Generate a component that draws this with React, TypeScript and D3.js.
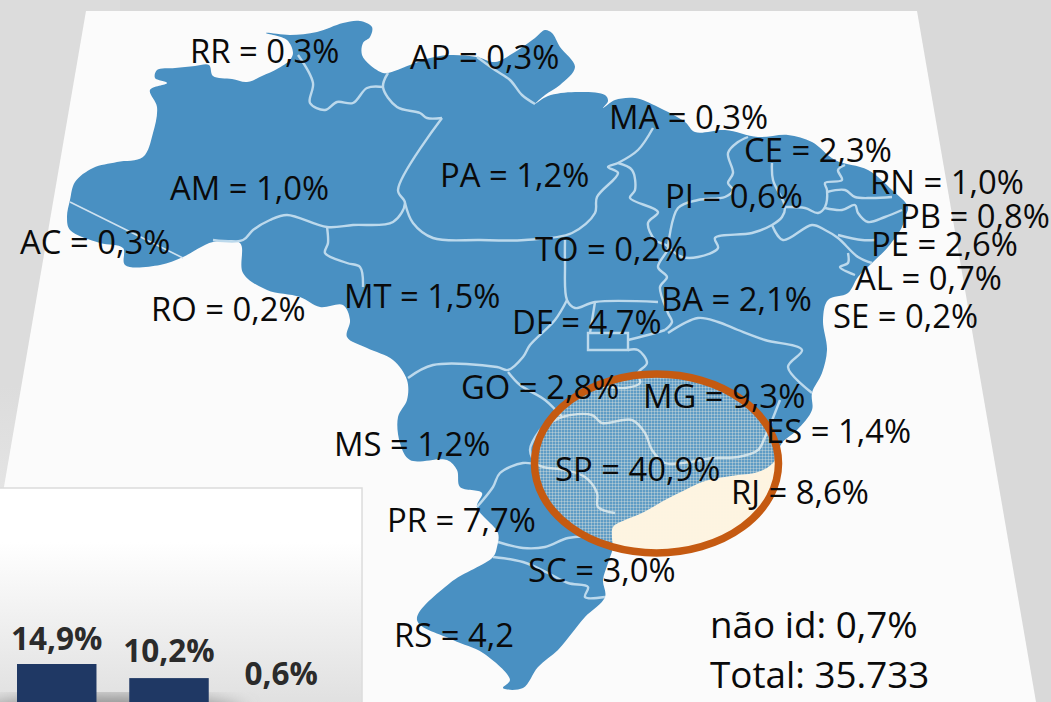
import React from 'react';
import * as d3 from 'd3';

type Pt = [number, number];

// values
const states = ['RR', 'AP', 'MA', 'CE', 'RN', 'PB', 'PE', 'AL', 'SE', 'PI', 'BA', 'TO', 'PA', 'AM', 'AC', 'MT', 'RO', 'DF', 'GO', 'MG', 'ES', 'SP', 'RJ', 'MS', 'PR', 'SC', 'RS'];
const shares = ['0,3%', '0,3%', '0,3%', '2,3%', '1,0%', '0,8%', '2,6%', '0,7%', '0,2%', '0,6%', '2,1%', '0,2%', '1,2%', '1,0%', '0,3%', '1,5%', '0,2%', '4,7%', '2,8%', '9,3%', '1,4%', '40,9%', '8,6%', '1,2%', '7,7%', '3,0%', '4,2'];
const notes = ['não id: 0,7%', 'Total: 35.733'];
const barValues = [14.9, 10.2, 0.6];
const barLabels = ['14,9%', '10,2%', '0,6%'];

// where each label starts (same order as states)
const labelAnchors: Pt[] = [[190, 63], [410, 69], [609, 129], [744, 162], [870, 194], [900, 228], [871, 256], [855, 290], [833, 328], [665, 208], [661, 311], [535, 261], [440, 187], [170, 200], [20, 254], [344, 308], [151, 321], [512, 334], [461, 399], [643, 408], [766, 443], [555, 481], [731, 504], [334, 456], [387, 532], [528, 582], [394, 647]];
const noteAnchors: Pt[] = [[710, 638], [710, 688]];

// outline of the country
const outline: Pt[] = [
  [157, 70], [175, 68], [195, 66], [209, 65], [213, 76], [232, 79], [247, 82], [262, 76], [277, 69], [290, 60], [293, 53], [287, 40], [266, 33],
  [290, 35], [317, 32], [343, 23], [360, 21], [372, 27], [370, 37], [363, 43], [362, 55], [370, 65], [383, 73], [388, 73], [410, 65], [430, 58],
  [450, 55], [477, 57], [495, 62], [515, 52], [535, 38], [545, 30], [552, 33], [560, 47], [575, 67], [560, 85], [545, 95], [535, 104], [548, 96], [575, 92],
  [605, 95], [608, 101], [603, 108], [615, 100], [635, 98], [658, 107], [685, 122], [695, 132], [725, 130], [758, 137], [788, 135], [812, 142],
  [835, 160], [868, 170], [892, 190], [908, 207], [905, 217], [902, 227], [888, 247], [872, 263], [858, 277], [848, 293], [828, 300], [823, 320],
  [827, 350], [822, 373], [812, 393], [812, 410], [797, 430], [782, 443], [773, 463], [758, 472], [738, 475], [718, 478], [702, 482], [685, 490],
  [665, 500], [642, 513], [625, 520], [613, 527], [612, 538], [613, 547], [608, 563], [603, 580], [605, 597], [585, 617], [572, 633], [558, 650],
  [538, 667], [523, 688], [503, 688], [510, 680], [483, 653], [453, 640], [417, 620], [450, 583], [493, 557], [497, 547], [498, 533], [477, 507],
  [482, 493], [460, 487], [457, 470], [447, 460], [410, 460], [400, 443], [398, 417], [407, 400], [407, 380], [393, 360], [367, 348], [347, 337],
  [350, 320], [343, 305], [320, 307], [300, 297], [267, 290], [243, 273], [240, 243], [213, 242], [183, 257], [160, 265], [125, 265], [123, 248],
  [100, 243], [70, 230], [67, 217], [70, 200], [75, 182], [93, 168], [117, 162], [143, 157], [153, 133], [157, 107], [150, 90], [167, 83], [155, 78],
];

// state borders, same tracing
const borders: Pt[][] = [
  [[298, 55], [313, 83], [310, 103], [325, 110], [337, 102], [353, 103], [367, 88], [383, 87]],
  [[388, 73], [383, 87], [397, 107], [420, 113], [427, 118], [442, 118]],
  [[442, 118], [398, 190], [405, 203], [393, 222], [353, 225], [327, 227], [287, 215], [270, 220], [253, 230], [243, 240], [213, 240]],
  [[327, 227], [328, 243], [325, 253], [347, 263], [360, 267], [363, 287]],
  [[405, 203], [413, 223], [433, 238], [480, 240], [525, 240], [572, 233], [595, 213], [597, 197], [618, 173], [608, 167], [618, 163], [638, 150], [653, 128]],
  [[477, 57], [495, 70], [510, 80], [522, 95], [535, 104]],
  [[618, 163], [632, 170], [635, 190], [630, 198], [658, 212], [648, 223], [655, 240], [668, 247], [658, 267], [667, 277], [660, 287], [668, 313], [672, 322], [665, 330]],
  [[565, 240], [565, 263], [567, 300], [575, 308], [595, 302], [658, 302]],
  [[567, 300], [555, 320], [530, 345], [523, 357], [508, 370], [497, 367], [433, 365], [408, 378]],
  [[508, 372], [520, 385], [545, 400], [562, 417]],
  [[595, 302], [590, 333]],
  [[628, 340], [655, 333], [665, 330]],
  [[628, 350], [638, 350], [647, 363], [638, 373], [640, 383], [625, 388], [602, 387], [582, 393]],
  [[540, 430], [562, 417], [592, 415], [602, 423], [632, 420], [645, 433], [652, 450], [665, 463], [690, 462], [712, 458], [738, 457], [758, 450], [765, 437], [780, 400]],
  [[668, 333], [698, 318], [718, 322], [738, 330], [765, 340], [802, 350], [788, 367], [812, 393]],
  [[540, 430], [530, 450], [538, 465], [565, 470], [585, 477], [597, 493], [598, 507], [615, 513]],
  [[477, 507], [493, 487], [500, 473], [523, 463], [538, 465]],
  [[498, 542], [523, 548], [545, 547], [568, 538], [588, 537], [612, 547]],
  [[493, 557], [523, 562], [548, 573], [568, 583], [588, 587], [585, 597], [605, 597]],
  [[668, 247], [678, 208], [698, 200], [725, 197], [733, 190], [728, 183], [733, 173], [728, 153], [738, 142], [748, 137]],
  [[668, 247], [682, 257], [698, 257], [718, 248], [715, 238], [752, 233], [772, 225], [782, 217], [785, 207], [773, 180], [772, 163]],
  [[785, 207], [805, 208], [818, 213], [825, 207], [827, 190], [825, 183], [842, 180], [838, 170], [845, 165]],
  [[827, 192], [845, 190], [855, 197], [872, 198], [892, 197]],
  [[825, 208], [842, 210], [855, 205], [858, 213], [868, 222], [885, 217], [902, 210]],
  [[772, 225], [783, 240], [812, 225], [825, 230], [838, 238], [858, 257], [872, 263]],
  [[838, 235], [862, 240], [875, 240]],
  [[848, 253], [848, 263], [840, 267], [855, 275]],
];
const acreBorder: Pt[] = [[70, 202], [183, 258]];
const dfBox: Pt[] = [[588, 333], [628, 333], [628, 350], [588, 350]];
const sheet: Pt[] = [[86, 11], [917, 11], [1036, 702], [0, 702], [0, 510]];

const W = 1051;
const H = 702;
const smooth = d3.line<Pt>().curve(d3.curveCatmullRom.alpha(0.5));
const closed = d3.line<Pt>().curve(d3.curveCatmullRomClosed.alpha(0.5));
const straight = d3.line<Pt>();

const App = () => {
  const x = d3.scaleBand<number>().domain(barValues.map((_, i) => i)).range([17, 321]).paddingInner(0.292).paddingOuter(0);
  const y = d3.scaleLinear().domain([0, 14.9]).range([708.7, 664]);
  const labelY = d3.scaleLinear().domain([0.6, 14.9]).range([685, 650]);

  return (
    <svg width={W} height={H} style={{ position: 'fixed', left: 0, top: 0, display: 'block' }} fontFamily="'Open Sans', sans-serif">
      <defs>
        <linearGradient id="sideShade" x1="0" x2="0" y1="0" y2="1">
          <stop offset="0.55" stopColor="#dcdcdc" />
          <stop offset="1" stopColor="#f4f4f4" />
        </linearGradient>
        <linearGradient id="panelFill" x1="0" x2="0" y1="0" y2="1">
          <stop offset="0.25" stopColor="#ffffff" />
          <stop offset="1" stopColor="#e0e0e0" />
        </linearGradient>
        <filter id="soft"><feGaussianBlur stdDeviation="0.7" /></filter>
        <filter id="softer"><feGaussianBlur stdDeviation="9" /></filter>
        <pattern id="mesh" width="3" height="3" patternUnits="userSpaceOnUse">
          <rect width="3" height="3" fill="#fff6e3" fillOpacity="0.12" />
          <path d="M0 0.5H3M0.5 0V3" stroke="#fff6e3" strokeOpacity="0.3" strokeWidth="1" />
        </pattern>
        <clipPath id="panelClip"><rect x={0} y={488} width={362} height={214} /></clipPath>
      </defs>

      <rect width={W} height={H} fill="#d9d9d9" />
      <rect width={120} height={H} fill="url(#sideShade)" />
      <path d={straight(sheet) + 'Z'} fill="#fbfbfb" />

      {/* cream under the map so the sea inside the ring stays warm */}
      <ellipse cx={656.5} cy={463.5} rx={122} ry={89.5} fill="#fdf4e1" />

      <g filter="url(#soft)">
        <path d={closed(outline) as string} fill="#4a90c2" />
        {borders.map((b, i) => (
          <path key={i} d={smooth(b) as string} fill="none" stroke="#bcd9ec" strokeWidth={2.4} strokeLinejoin="round" />
        ))}
        <path d={straight(acreBorder) as string} fill="none" stroke="#cfe2f0" strokeWidth={1.5} />
        <path d={straight(dfBox) + 'Z'} fill="none" stroke="#bcd9ec" strokeWidth={2.4} />
      </g>

      <ellipse cx={656.5} cy={463.5} rx={122} ry={89.5} fill="url(#mesh)" stroke="#c55a11" strokeWidth={7.5} />

      {/* panel in the corner */}
      <rect x={-2} y={488} width={364} height={216} fill="url(#panelFill)" stroke="#dcdcdc" strokeWidth={1.5} />
      <g clipPath="url(#panelClip)">
        <ellipse cx={110} cy={716} rx={135} ry={20} fill="#8c8c8c" filter="url(#softer)" />
        {barValues.map((v, i) => (
          <rect key={i} x={x(i)} y={y(v)} width={x.bandwidth()} height={y(0) - y(v)} fill="#1f3864" />
        ))}
      </g>
      {barValues.map((v, i) => (
        <text key={i} x={(x(i) as number) + x.bandwidth() / 2} y={labelY(v)} textAnchor="middle" fontSize={31.5} fontWeight={700} fill="#2b2b2b">
          {barLabels[i]}
        </text>
      ))}

      {states.map((s, i) => (
        <text key={s} x={labelAnchors[i][0]} y={labelAnchors[i][1]} fontSize={32.8} fill="#0a0a0a">
          {`${s} = ${shares[i]}`}
        </text>
      ))}
      {notes.map((n, i) => (
        <text key={n} x={noteAnchors[i][0]} y={noteAnchors[i][1]} fontSize={36.8} fill="#0a0a0a">
          {n}
        </text>
      ))}
    </svg>
  );
};

export default App;
